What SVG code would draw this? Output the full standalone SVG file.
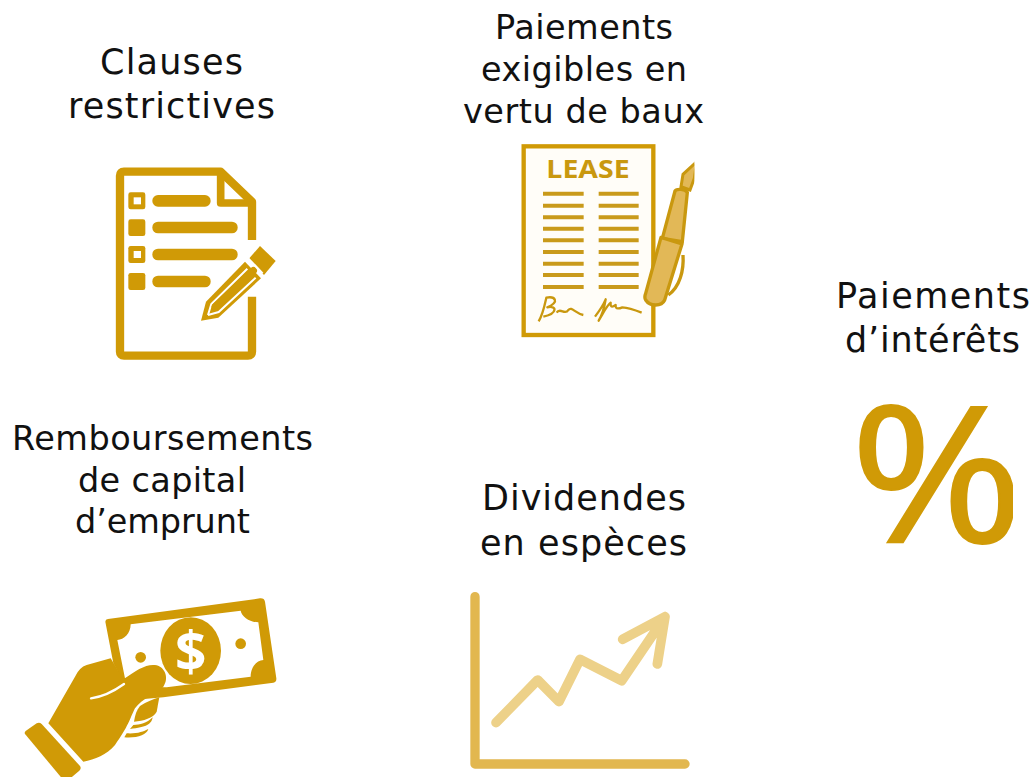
<svg xmlns="http://www.w3.org/2000/svg" width="1032" height="777" viewBox="0 0 1032 777">
<style>
.t{font-family:"DejaVu Sans",Verdana,sans-serif;font-size:35px;fill:#111;text-anchor:middle}
.s{font-size:33.5px}
.g{fill:#d09a06}
.w{fill:#fff}
.ln{stroke:#c99a1a;stroke-width:12;fill:none}
</style>
<defs>
<clipPath id="pc"><rect x="840" y="404" width="173" height="141"/></clipPath>
<clipPath id="pn"><rect x="0" y="0" width="583" height="600"/></clipPath>
<clipPath id="hc"><rect x="0" y="0" width="900" height="591"/></clipPath>
</defs>
<rect width="1032" height="777" fill="#fff"/>

<g id="clauses">
<text class="t" x="171.500" y="74" textLength="143">Clauses</text>
<text class="t" x="171.500" y="118" textLength="207">restrictives</text>
<g transform="translate(90,150) scale(.33333)">
<path d="M486,270V155L392,65H102Q90,65 90,77V605Q90,617 102,617H474Q486,617 486,605V440" fill="none" stroke="#d09a06" stroke-width="25" stroke-linejoin="round"/>
<path d="M392,70V159H486" fill="none" stroke="#d09a06" stroke-width="23" stroke-linejoin="round"/>
<rect class="g" x="115" y="127" width="51" height="51" rx="7"/><rect class="w" x="131" y="142" width="22" height="21"/>
<rect class="g" x="115" y="208" width="51" height="50" rx="7"/>
<rect class="g" x="115" y="288" width="51" height="51" rx="7"/><rect class="w" x="131" y="303" width="22" height="21"/>
<rect class="g" x="115" y="369" width="51" height="51" rx="7"/>
<rect class="g" x="187" y="135" width="175" height="35" rx="17"/>
<rect class="g" x="187" y="215" width="256" height="35" rx="17"/>
<rect class="g" x="187" y="296" width="256" height="35" rx="17"/>
<rect class="g" x="187" y="377" width="175" height="35" rx="17"/>
<path class="g" d="M510,288L557,333L522,375L476,327Z"/>
<path class="g" d="M465,335L513,385L385,503L333,512L348,455Z"/>
<path d="M354,495L364,462L472,356" fill="none" stroke="#fff" stroke-width="6"/>
<path d="M354,495L386,486L497,383" fill="none" stroke="#fff" stroke-width="6"/>
<path d="M376,470L490,362" stroke="#d09a06" stroke-width="22" stroke-linecap="round"/>
<path d="M470,320L518,370" stroke="#fff" stroke-width="6"/>
</g>
</g>

<g id="baux">
<text class="t s" x="584" y="39" textLength="178">Paiements</text>
<text class="t s" x="584" y="81" textLength="206">exigibles en</text>
<text class="t s" x="583.500" y="123" textLength="241">vertu de baux</text>
<g transform="translate(500,130) scale(.33333)">
<rect x="71" y="49" width="389" height="566" fill="#fffdf8" stroke="#d09a06" stroke-width="13"/>
<text x="264" y="144" font-family="'Open Sans','DejaVu Sans',sans-serif" font-weight="700" font-size="74" fill="#c9980f" text-anchor="middle" textLength="250" lengthAdjust="spacingAndGlyphs">LEASE</text>
<path class="ln" d="M129,191H251M129,227H251M129,262H251M129,296H251M129,331H251M129,366H251M129,401H251M129,435H251M129,471H251M296,191H416M296,227H416M296,262H416M296,296H416M296,331H416M296,366H416M296,401H416M296,435H416M296,471H416"/>
<path d="M116,574C130,550 135,520 139,503C165,498 180,515 142,532C170,525 175,550 130,560M170,548C180,530 195,558 205,540C215,528 225,550 250,555M285,560C300,540 310,525 317,508C312,540 300,565 296,572C315,540 322,525 332,518C330,535 340,530 347,525C345,540 360,535 367,532C385,533 405,540 425,548" fill="none" stroke="#c9980f" stroke-width="7" stroke-linejoin="round"/>
<path d="M549,375C552,420 540,470 505,495" fill="none" stroke="#c9980f" stroke-width="10"/>
<g clip-path="url(#pn)"><path d="M590,95L549,133L543,170L570,180L583,145Z" fill="#e2b857" stroke="#c9980f" stroke-width="9"/></g>
<path d="M525,183C530,176 555,176 562,187L547,335L487,325Z" fill="#e2b857" stroke="#c9980f" stroke-width="10"/>
<path d="M483,322L546,342L494,510C485,530 450,530 437,510C434,505 435,495 437,490Z" fill="#e2b857" stroke="#c9980f" stroke-width="10" stroke-linejoin="round"/>
</g>
</g>

<g id="interets">
<text class="t" x="933" y="308" textLength="194">Paiements</text>
<text class="t" x="932.500" y="352" textLength="175">d’intérêts</text>
<g clip-path="url(#pc)"><text transform="translate(937,542) scale(1.12,1)" font-family="'Open Sans',sans-serif" font-size="188" fill="#d09a06" stroke="#d09a06" stroke-width="2" text-anchor="middle">%</text></g>
</g>

<g id="capital">
<text class="t s" x="162.500" y="450" textLength="301">Remboursements</text>
<text class="t s" x="162" y="492" textLength="168">de capital</text>
<text class="t s" x="162.500" y="533" textLength="175">d’emprunt</text>
<g transform="translate(0,580) scale(.33333)" clip-path="url(#hc)">
<path class="g" d="M316,125Q316,118 324,117L780,55Q793,54 795,65L829,295Q830,306 820,308L490,352L400,360L340,250Z"/>
<path class="w" d="M392,133L722,92C725,110 750,127 775,127L790,240C770,240 752,262 752,290L500,322L380,320L352,180C372,180 392,160 392,133Z"/>
<ellipse class="g" cx="572" cy="212" rx="91" ry="100"/>
<text x="572" y="272" font-family="'Open Sans',sans-serif" font-weight="700" font-size="165" fill="#fff" text-anchor="middle">$</text>
<circle class="g" cx="422" cy="232" r="16"/><circle class="g" cx="722" cy="191" r="16"/>
<path class="g" d="M145,430L225,290Q238,262 260,255L332,235L370,298C410,270 440,250 470,256C495,262 508,295 490,320C470,342 425,355 405,385C390,415 385,440 345,495C320,525 285,538 250,545Z"/>
<path d="M273,355C310,350 340,335 372,312" fill="none" stroke="#fff" stroke-width="7" stroke-linecap="round"/>
<path class="g" d="M420,378C440,365 460,358 478,352L470,395C460,415 430,422 402,425C405,405 410,390 420,378Z"/>
<path class="g" d="M400,435C420,435 440,430 458,412C455,432 440,442 390,447Z"/>
<path class="g" d="M380,460C410,462 430,455 445,447C440,465 410,475 373,472Z"/>
<path class="g" d="M75,462Q72,457 78,452L110,430Q118,425 125,432L240,558Q245,565 238,572L205,600H190Z"/>
</g>
</g>

<g id="dividendes">
<text class="t" x="584" y="510" textLength="204">Dividendes</text>
<text class="t" x="583.500" y="555" textLength="207">en espèces</text>
<g transform="translate(450,580) scale(.33333)" fill="none" stroke-linecap="round" stroke-linejoin="round">
<path d="M75,50V552H705" stroke="#e2b74f" stroke-width="28"/>
<path d="M138,428L263,300L327,365L390,238L515,302L645,110M518,178L645,110L622,252" stroke="#edd189" stroke-width="29"/>
</g>
</g>

<g id="connectors"></g>
</svg>
